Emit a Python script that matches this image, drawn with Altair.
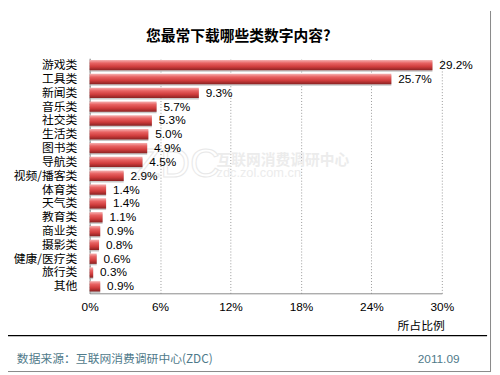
import altair as alt
import pandas as pd

categories = ["游戏类", "工具类", "新闻类", "音乐类", "社交类", "生活类", "图书类", "导航类",
              "视频/播客类", "体育类", "天气类", "教育类", "商业类", "摄影类", "健康/医疗类",
              "旅行类", "其他"]
values = [29.2, 25.7, 9.3, 5.7, 5.3, 5.0, 4.9, 4.5, 2.9, 1.4, 1.4, 1.1, 0.9, 0.8, 0.6, 0.3, 0.9]
x_ticks = [0, 6, 12, 18, 24, 30]

title_text = "您最常下载哪些类数字内容?"
axis_title = "所占比例"
source_text = "数据来源：互联网消费调研中心(ZDC)"
date_text = "2011.09"

df = pd.DataFrame({"cat": categories, "v": values})

CJK = "Noto Sans CJK SC"
LAT = "Liberation Sans"

y_enc = alt.Y("cat:N", sort=categories, title=None,
              scale=alt.Scale(paddingInner=0.25, paddingOuter=0.13),
              axis=alt.Axis(labelFont=CJK, labelFontSize=12, labelColor="#000",
                            ticks=False, labelPadding=13, domainColor="#888",
                            labelAlign="right"))
x_enc = alt.X("v:Q", title=None,
              scale=alt.Scale(domain=[0, 30], nice=False),
              axis=alt.Axis(values=x_ticks, labelExpr="datum.value + '%'",
                            labelFont=LAT, labelFontSize=12, labelColor="#000",
                            ticks=False, labelPadding=8, domainColor="#888",
                            grid=True, gridColor="#999", gridDash=[1, 2],
                            labelFlush=False))

grad = alt.Gradient(gradient="linear", x1=0, y1=0, x2=0, y2=1,
                    stops=[alt.GradientStop(offset=0, color="#f6b0b0"),
                           alt.GradientStop(offset=0.3, color="#e86262"),
                           alt.GradientStop(offset=0.65, color="#cf3c3c"),
                           alt.GradientStop(offset=1, color="#8a2222")])

base = alt.Chart(df)
shadow = base.mark_bar(color="#b0b0b0", yOffset=1.5, opacity=0.7).encode(y=y_enc, x=x_enc)
bars = base.mark_bar(color=grad).encode(y=y_enc, x=x_enc)
labels = base.transform_calculate(
    lab="format(datum.v, '.1f') + '%'"
).mark_text(align="left", baseline="middle", dx=7, font=LAT, fontSize=12,
            color="#000").encode(y=alt.Y("cat:N", sort=categories), x="v:Q", text="lab:N")


def note(text, x, y, **kw):
    return alt.Chart(alt.Data(values=[{"t": text}])).mark_text(**kw).encode(
        x=alt.value(x), y=alt.value(y), text="t:N")


def hline(x1, x2, y, color, width):
    return alt.Chart(alt.Data(values=[{}])).mark_rule(color=color, strokeWidth=width).encode(
        x=alt.value(x1), x2=alt.value(x2), y=alt.value(y))


def vline(x, y1, y2, color, width):
    return alt.Chart(alt.Data(values=[{}])).mark_rule(color=color, strokeWidth=width).encode(
        x=alt.value(x), y=alt.value(y1), y2=alt.value(y2))


wm1 = note("ZDC", 46, 108, font=LAT, fontSize=42, align="left", baseline="middle",
           fill="#ffffff", fillOpacity=0, stroke="#e8e8e8", strokeWidth=1)
wm2 = note("互联网消费调研中心", 129, 104, font=CJK, fontSize=15, fontWeight="bold",
           align="left", baseline="middle", color="#ececec")
wm3 = note("zdc.zol.com.cn", 129, 117, font=LAT, fontSize=13, align="left",
           baseline="middle", color="#ececec")

title = note(title_text, 151, -22, font=CJK, fontSize=15, fontWeight="bold",
             align="center", baseline="middle", color="#000")
xtitle = note(axis_title, 337, 272, font=CJK, fontSize=12, align="center",
              baseline="middle", color="#000")
src = note(source_text, -74, 306, font=CJK, fontSize=12, align="left",
           baseline="middle", color="#4f7a8a")
date = note(date_text, 376, 306, font=LAT, fontSize=12, align="right",
            baseline="middle", color="#4f7a8a")

sep = hline(-83, 404, 282, "#000", 1.5)
rborder = vline(407.5, -48, 318, "#888", 1)
bborder = hline(-83, 408, 318.5, "#888", 1)

chart = alt.layer(
    wm1, wm2, wm3, shadow, bars, labels, title, xtitle, src, date, sep, rborder, bborder
).properties(
    width=358, height=239,
    padding={"left": 83, "top": 48, "right": 51, "bottom": 80},
    autosize=alt.AutoSizeParams(type="none"),
    background="#ffffff",
).configure_view(strokeWidth=0)

chart.save("out.html", embed_options={"renderer": "svg", "actions": False})
